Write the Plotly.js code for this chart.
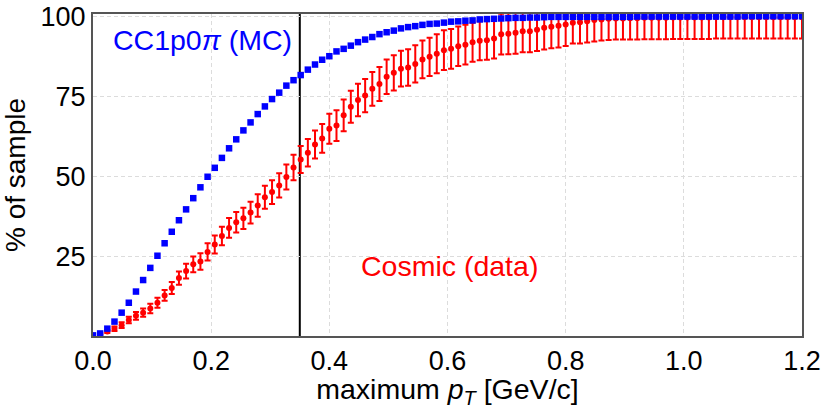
<!DOCTYPE html>
<html>
<head>
<meta charset="utf-8">
<script src="https://cdn.plot.ly/plotly-3.0.1.min.js"></script>
<style>
  html, body { margin: 0; padding: 0; background: #fff; }
  #chart { width: 830px; height: 409px; }
</style>
</head>
<body>
<div id="chart"></div>
<script>
// cumulative % of sample below a given maximum pT cut
const mcPct = [
  0.2, 0.8, 2.3, 4.5, 7.3, 10.4, 13.9, 17.5, 21.3, 25.1,
  29.0, 32.6, 36.2, 39.6, 43.1, 46.5, 49.8, 52.6, 55.7, 58.7,
  61.5, 64.3, 66.8, 69.4, 71.8, 74.1, 76.1, 78.3, 80.0, 81.6,
  83.3, 84.9, 86.4, 87.5, 89.0, 89.8, 90.8, 91.9, 92.7, 93.5,
  94.4, 95.0, 95.5, 96.2, 96.6, 96.9, 97.3, 97.6, 97.7, 98.0,
  98.3, 98.4, 98.6, 98.7, 99.0, 99.1, 99.2, 99.3, 99.4, 99.5,
  99.5, 99.6, 99.6, 99.7, 99.8, 99.8, 99.8, 99.8, 99.8, 99.8,
  99.8, 99.8, 99.8, 99.8, 99.8, 99.8, 99.9, 99.9, 99.9, 99.9,
  99.9, 99.9, 99.9, 99.9, 99.9, 99.9, 99.9, 99.9, 99.9, 99.9,
  99.9, 100, 100, 100, 100, 100, 100, 100, 100, 100
];

const cosmicPct = [
  0.1, 0.6, 1.4, 2.3, 3.4, 5.0, 6.3, 7.3, 8.6, 10.4,
  12.7, 15.0, 18.1, 20.3, 22.4, 23.3, 26.3, 28.6, 31.3, 33.8,
  35.6, 36.8, 38.6, 40.8, 43.4, 45.0, 47.1, 49.7, 52.7, 55.2,
  57.3, 59.9, 61.8, 64.8, 65.8, 69.0, 71.7, 73.8, 75.2, 77.3,
  78.8, 81.1, 82.3, 83.6, 84.0, 85.1, 86.5, 87.3, 88.3, 89.4,
  89.8, 90.6, 91.1, 91.9, 92.3, 92.5, 93.0, 94.4, 94.5, 94.8,
  95.3, 95.3, 95.8, 96.4, 96.7, 97.0, 97.4, 98.0, 98.1, 98.4,
  98.8, 99.0, 99.2, 99.3, 99.3, 99.4, 99.4, 99.5, 99.5, 99.5,
  99.5, 99.6, 99.6, 99.6, 99.6, 99.6, 99.6, 99.7, 99.7, 99.7,
  99.7, 99.7, 99.7, 99.7, 99.7, 99.7, 99.7, 99.7, 99.7, 99.7
];

const cosmicErr = [
  0.1, 0.3, 0.5, 0.7, 0.9, 1.0, 1.2, 1.3, 1.5, 1.6,
  1.7, 1.9, 2.1, 2.3, 2.5, 2.6, 2.7, 2.8, 2.9, 3.1,
  3.2, 3.3, 3.4, 3.5, 3.6, 3.7, 3.8, 3.9, 4.0, 4.2,
  4.3, 4.4, 4.5, 4.7, 4.8, 5.0, 5.0, 5.1, 5.2, 5.3,
  5.3, 5.4, 5.5, 5.6, 5.7, 5.8, 5.9, 6.0, 6.1, 6.2,
  6.2, 6.2, 6.2, 6.1, 6.1, 6.1, 6.2, 6.4, 6.4, 6.5,
  6.6, 6.6, 6.7, 6.8, 6.7, 6.8, 6.7, 6.5, 6.6, 6.6,
  6.7, 6.6, 6.6, 6.6, 6.6, 6.7, 6.7, 6.7, 6.7, 6.7,
  6.7, 6.7, 6.7, 6.7, 6.7, 6.7, 6.7, 6.7, 6.7, 6.7,
  6.7, 6.7, 6.7, 6.7, 6.7, 6.7, 6.7, 6.7, 6.7, 6.7
];

const xTicks = [0, 0.2, 0.4, 0.6, 0.8, 1.0, 1.2];
const yTicks = [25, 50, 75, 100];
const ptCut = 0.35;

// the pT cut scan: 100 evenly spaced cut values from 0 to 1.2 GeV/c
const ptScan = mcPct.map((_, i) => i * 1.2 / (mcPct.length - 1));

const font = 'Liberation Sans, Arial, sans-serif';

const traces = [
  {
    x: ptScan,
    y: cosmicPct,
    type: 'scatter',
    mode: 'markers',
    name: 'Cosmic (data)',
    marker: { color: '#ff0000', symbol: 'circle', size: 6 },
    error_y: { type: 'data', array: cosmicErr, visible: true, color: '#ff0000', thickness: 2, width: 3 }
  },
  {
    x: ptScan,
    y: mcPct,
    type: 'scatter',
    mode: 'markers',
    name: 'CC1p0π (MC)',
    marker: { color: '#0000ff', symbol: 'square', size: 6.5 }
  }
];

const axisCommon = {
  showline: true,
  mirror: true,
  linecolor: '#555',
  linewidth: 2,
  showgrid: true,
  gridcolor: '#dcdcdc',
  griddash: '4px,3px',
  gridwidth: 1,
  zeroline: false,
  ticks: '',
  tickfont: { family: font, size: 27, color: '#000' }
};

const layout = {
  width: 830,
  height: 409,
  margin: { l: 93, r: 28, t: 14, b: 73 },
  paper_bgcolor: '#fff',
  plot_bgcolor: '#fff',
  showlegend: false,
  font: { family: font, color: '#000' },
  xaxis: Object.assign({}, axisCommon, {
    range: [0, 1.2],
    tickvals: xTicks,
    tickformat: '.1f',
    title: { text: 'maximum <i>p</i><sub><i>T</i></sub> [GeV/c]', font: { family: font, size: 28.5, color: '#000' }, standoff: 9 }
  }),
  yaxis: Object.assign({}, axisCommon, {
    range: [0, 100.7],
    tickvals: yTicks,
    title: { text: '% of sample', font: { family: font, size: 28, color: '#000' }, standoff: 10 }
  }),
  shapes: [
    { type: 'line', xref: 'x', yref: 'paper', x0: ptCut, x1: ptCut, y0: 0, y1: 1,
      line: { color: '#000', width: 2 }, layer: 'below' }
  ],
  annotations: [
    { text: 'CC1p0<i>π</i> (MC)', x: 0.1845, y: 92.5, xref: 'x', yref: 'y', showarrow: false,
      xanchor: 'center', yanchor: 'middle', font: { family: font, size: 28.5, color: '#0000ff' } },
    { text: 'Cosmic (data)', x: 0.603, y: 22, xref: 'x', yref: 'y', showarrow: false,
      xanchor: 'center', yanchor: 'middle', font: { family: font, size: 28.5, color: '#ff0000' } }
  ]
};

Plotly.newPlot('chart', traces, layout, { displayModeBar: false, staticPlot: true });
</script>
</body>
</html>
